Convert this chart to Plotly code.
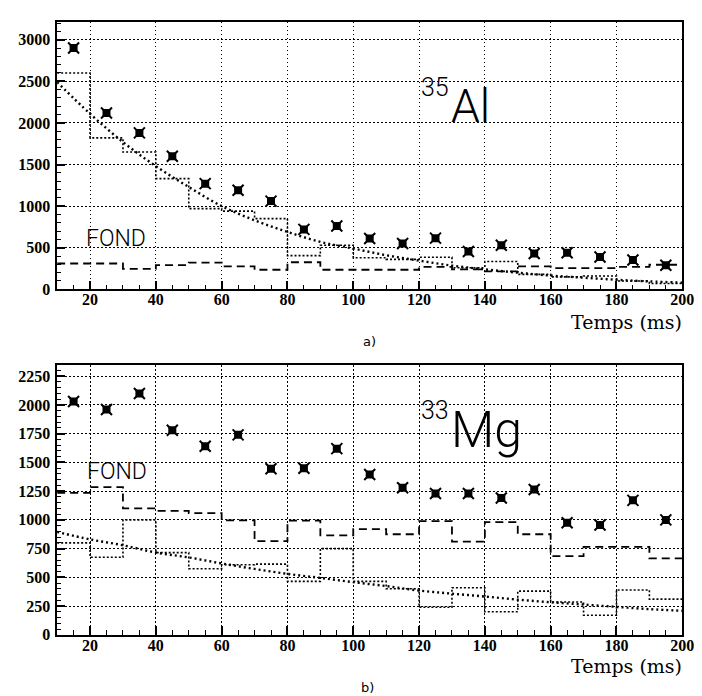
import plotly.graph_objects as go

W, H = 702, 696

# ---------------- data ----------------
bin_edges = [10, 20, 30, 40, 50, 60, 70, 80, 90, 100, 110, 120, 130, 140, 150, 160, 170, 180, 190, 200]
bin_centers = [15, 25, 35, 45, 55, 65, 75, 85, 95, 105, 115, 125, 135, 145, 155, 165, 175, 185, 195]
x_ticks = [20, 40, 60, 80, 100, 120, 140, 160, 180, 200]

# (a) 35Al
al_counts = [2900, 2120, 1880, 1600, 1270, 1190, 1060, 720, 760, 610, 550, 615, 455, 530, 430, 440, 388, 352, 290]
al_fond = [310, 310, 245, 290, 320, 275, 235, 325, 235, 235, 235, 270, 240, 215, 275, 255, 255, 270, 295]
al_signal = [2600, 1820, 1650, 1330, 970, 940, 850, 405, 530, 380, 360, 385, 260, 335, 180, 150, 160, 100, 70]
al_fit_x = [10, 20, 30, 40, 50, 60, 70, 80, 90, 100, 110, 120, 130, 140, 150, 160, 170, 180, 190, 200]
al_fit_y = [2490, 2110, 1770, 1480, 1230, 1000, 830, 690, 570, 490, 410, 345, 285, 240, 200, 165, 140, 115, 95, 80]
al_yticks = [0, 500, 1000, 1500, 2000, 2500, 3000]

# (b) 33Mg
mg_counts = [2030, 1960, 2100, 1780, 1640, 1740, 1445, 1450, 1620, 1395, 1280, 1230, 1230, 1190, 1265, 975, 955, 1170, 1000]
mg_fond = [1235, 1285, 1100, 1078, 1058, 995, 815, 993, 865, 920, 875, 990, 810, 980, 875, 685, 765, 765, 665]
mg_signal = [800, 675, 1000, 715, 575, 610, 615, 465, 750, 465, 400, 240, 410, 200, 380, 285, 170, 390, 310]
mg_fit_x = [10, 20, 30, 40, 50, 60, 70, 80, 90, 100, 110, 120, 130, 140, 150, 160, 170, 180, 190, 200]
mg_fit_y = [895, 830, 779, 716, 673, 621, 573, 530, 495, 458, 424, 385, 358, 333, 306, 283, 263, 243, 223, 209]
mg_yticks = [0, 250, 500, 750, 1000, 1250, 1500, 1750, 2000, 2250]


def px(x):
    return x / W


def py(y):
    return 1 - y / H


def step_xy(vals):
    xs = list(bin_edges)
    ys = list(vals) + [vals[-1]]
    return xs, ys


fig = go.Figure()


def add_panel(xa, ya, counts, fond, signal, fit_x, fit_y):
    sx, sy = step_xy(fond)
    fig.add_trace(go.Scatter(x=sx, y=sy, mode="lines", line=dict(shape="hv", color="black", width=1.8, dash="8px,5px"),
                             xaxis=xa, yaxis=ya, showlegend=False, hoverinfo="skip"))
    gx, gy = step_xy(signal)
    fig.add_trace(go.Scatter(x=gx, y=gy, mode="lines", line=dict(shape="hv", color="black", width=1.6, dash="2px,2px"),
                             xaxis=xa, yaxis=ya, showlegend=False, hoverinfo="skip"))
    fig.add_trace(go.Scatter(x=fit_x, y=fit_y, mode="lines", line=dict(shape="spline", color="black", width=2.4, dash="2px,3px"),
                             xaxis=xa, yaxis=ya, showlegend=False, hoverinfo="skip"))
    fig.add_trace(go.Scatter(x=bin_centers, y=counts, mode="markers",
                             marker=dict(symbol="square", size=8, color="black"),
                             xaxis=xa, yaxis=ya, showlegend=False))
    fig.add_trace(go.Scatter(x=bin_centers, y=counts, mode="markers",
                             marker=dict(symbol="x-thin", size=11, color="black", line=dict(width=2, color="black")),
                             xaxis=xa, yaxis=ya, showlegend=False))


add_panel("x", "y", al_counts, al_fond, al_signal, al_fit_x, al_fit_y)
add_panel("x2", "y2", mg_counts, mg_fond, mg_signal, mg_fit_x, mg_fit_y)

tickfont = dict(family="Liberation Serif, Times New Roman, serif", size=16, color="black", weight="bold")

xcommon = dict(range=[10, 200], tickvals=x_ticks, ticks="inside", ticklen=9, tickwidth=1.5, tickcolor="black",
               showline=True, linecolor="black", linewidth=1.5, mirror=True,
               showgrid=True, gridcolor="black", gridwidth=1, griddash="1.5px,2.5px", zeroline=False,
               tickfont=tickfont, ticklabelstandoff=-5,
               minor=dict(dtick=5, tick0=0, ticks="inside", ticklen=5, tickcolor="black", tickwidth=1, showgrid=False))

ycommon = dict(ticks="inside", ticklen=8, tickwidth=1.5, tickcolor="black",
               showline=True, linecolor="black", linewidth=1.5, mirror=True,
               showgrid=True, gridcolor="black", gridwidth=1, griddash="1.5px,2.5px", zeroline=False,
               tickfont=tickfont, ticklabelstandoff=2)

fig.update_layout(
    width=W, height=H,
    margin=dict(l=0, r=0, t=0, b=0),
    paper_bgcolor="white", plot_bgcolor="white",
    xaxis=dict(domain=[px(50), px(686)], anchor="y", **xcommon),
    yaxis=dict(domain=[py(285), py(14)], anchor="x", range=[0, 3215], tickvals=al_yticks,
               minor=dict(dtick=100, tick0=0, ticks="inside", ticklen=4, tickcolor="black", tickwidth=1, showgrid=False),
               **ycommon),
    xaxis2=dict(domain=[px(50), px(686)], anchor="y2", **xcommon),
    yaxis2=dict(domain=[py(635), py(362)], anchor="x2", range=[0, 2345], tickvals=mg_yticks,
                minor=dict(dtick=50, tick0=0, ticks="inside", ticklen=4, tickcolor="black", tickwidth=1, showgrid=False),
                **ycommon),
)

ann = []
light = dict(family="Roboto, Liberation Sans, sans-serif", color="black", weight=300)


def add_text(text, x, y, size, xanchor="left", yanchor="middle", family=None, weight=None):
    f = dict(light)
    f["size"] = size
    if family:
        f["family"] = family
    if weight is not None:
        f["weight"] = weight
    ann.append(dict(text=text, x=px(x), y=py(y), xref="paper", yref="paper", xanchor=xanchor, yanchor=yanchor,
                    showarrow=False, font=f))


# panel (a)
add_text("35", 418, 81, 25)
add_text("Al", 449, 99, 46)
add_text("FOND", 77, 234, 23)
add_text("Temps (ms)", 688, 318, 19, xanchor="right", family="DejaVu Serif", weight="normal")
add_text("a)", 368, 338, 13, xanchor="center", family="DejaVu Sans", weight="normal")

# panel (b)
add_text("33", 418, 408, 25)
add_text("Mg", 449, 428, 50)
add_text("FOND", 78, 470, 23)
add_text("Temps (ms)", 688, 667, 19, xanchor="right", family="DejaVu Serif", weight="normal")
add_text("b)", 366, 688, 13, xanchor="center", family="DejaVu Sans", weight="normal")

fig.update_layout(annotations=ann)

fig.write_html("out.html")
